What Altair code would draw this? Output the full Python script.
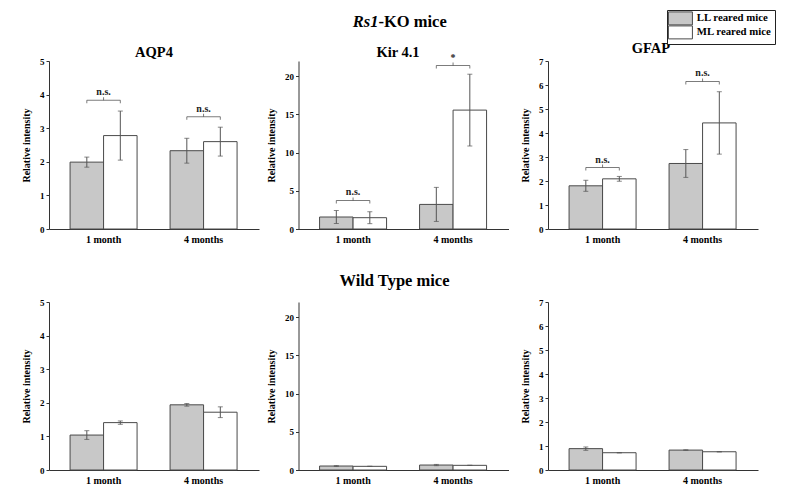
import altair as alt
import pandas as pd

categories = ["1 month", "4 months"]
groups = ["LL reared mice", "ML reared mice"]

# Rs1-KO mice
ko_aqp4_ll = [1.99, 2.33]
ko_aqp4_ll_err = [0.15, 0.37]
ko_aqp4_ml = [2.78, 2.60]
ko_aqp4_ml_err = [0.73, 0.43]
ko_aqp4_br = [3.83, 3.34]
ko_aqp4_lab = ["n.s.", "n.s."]

ko_kir_ll = [1.57, 3.22]
ko_kir_ll_err = [0.85, 2.23]
ko_kir_ml = [1.48, 15.57]
ko_kir_ml_err = [0.78, 4.70]
ko_kir_br = [3.74, 21.4]
ko_kir_lab = ["n.s.", "*"]

ko_gfap_ll = [1.80, 2.73]
ko_gfap_ll_err = [0.23, 0.58]
ko_gfap_ml = [2.09, 4.42]
ko_gfap_ml_err = [0.10, 1.30]
ko_gfap_br = [2.56, 6.15]
ko_gfap_lab = ["n.s.", "n.s."]

# Wild Type mice
wt_aqp4_ll = [1.04, 1.94]
wt_aqp4_ll_err = [0.13, 0.04]
wt_aqp4_ml = [1.41, 1.72]
wt_aqp4_ml_err = [0.05, 0.16]

wt_kir_ll = [0.52, 0.65]
wt_kir_ll_err = [0.06, 0.08]
wt_kir_ml = [0.48, 0.61]
wt_kir_ml_err = [0.02, 0.02]

wt_gfap_ll = [0.89, 0.83]
wt_gfap_ll_err = [0.07, 0.01]
wt_gfap_ml = [0.72, 0.76]
wt_gfap_ml_err = [0.01, 0.01]

aqp4_ticks = [0, 1, 2, 3, 4, 5]
kir_ticks = [0, 5, 10, 15, 20]
gfap_ticks = [0, 1, 2, 3, 4, 5, 6, 7]

panel_titles = ["AQP4", "Kir 4.1", "GFAP"]
row_titles = ["Rs1", "-KO mice", "Wild Type mice"]

FONT = "Liberation Serif"
BAR_FILL = ["#c8c8c8", "#ffffff"]
EDGE = "#4a4a4a"
W, H = 210, 168


def text_layer(txt, x, y, size, align="center", italic=False):
    kw = dict(align=align, baseline="alphabetic", font=FONT, fontSize=size,
              fontWeight="bold", color="black")
    if italic:
        kw["fontStyle"] = "italic"
    return alt.Chart(pd.DataFrame({"t": [txt]})).mark_text(**kw).encode(
        x=alt.value(x), y=alt.value(y), text="t:N")


def panel(ll, ll_err, ml, ml_err, ymax, yticks, br=None, lab=None,
          legend=False, extra=None):
    df = pd.DataFrame({
        "cat": categories * 2,
        "grp": [groups[0]] * 2 + [groups[1]] * 2,
        "val": ll + ml,
        "err": ll_err + ml_err,
    })
    df["lo"] = df["val"] - df["err"]
    df["hi"] = df["val"] + df["err"]

    xs = alt.Scale(domain=categories, paddingInner=0.33, paddingOuter=0.215, align=0.49)
    xax = alt.Axis(title=None, labelAngle=0, ticks=False, labelPadding=5,
                   labelFontSize=10, labelFont=FONT, labelFontWeight="bold")
    xoff = alt.XOffset("grp:N", sort=groups,
                       scale=alt.Scale(domain=groups, paddingInner=0, paddingOuter=0))
    ys = alt.Scale(domain=[0, ymax], nice=False, zero=True)
    yax = alt.Axis(values=yticks, title="Relative intensity", titleFont=FONT,
                   titleFontSize=10, titleFontWeight="bold", titlePadding=8,
                   labelFont=FONT, labelFontSize=9, labelFontWeight="bold",
                   tickSize=3, labelPadding=2, grid=False)

    xenc = alt.X("cat:N", sort=categories, scale=xs, axis=xax)

    def Y(f):
        return alt.Y(f, scale=ys, axis=yax)

    if legend:
        fill = alt.Fill("grp:N", scale=alt.Scale(domain=groups, range=BAR_FILL),
                        legend=alt.Legend(title=None, orient="none", legendX=119, legendY=-51,
                                          symbolType="M-2.33,-2.16H5.67V2.16H-2.33Z",
                                          symbolSize=36,
                                          symbolStrokeColor=EDGE, symbolStrokeWidth=1,
                                          labelFont=FONT, labelFontSize=10.8,
                                          labelFontWeight="bold", labelOffset=16,
                                          rowPadding=-4.5, padding=3,
                                          strokeColor="#222222", fillColor="white"))
    else:
        fill = alt.Fill("grp:N", scale=alt.Scale(domain=groups, range=BAR_FILL), legend=None)

    base = alt.Chart(df)
    bars = base.mark_bar(stroke=EDGE, strokeWidth=1).encode(
        x=xenc, xOffset=xoff, y=Y("val:Q"), fill=fill)
    rules = base.mark_rule(color="#555555", strokeWidth=1).encode(
        x=xenc, xOffset=xoff, y=Y("lo:Q"), y2="hi:Q")
    cap_hi = base.mark_tick(orient="horizontal", size=5, thickness=1, color="#555555").encode(
        x=xenc, xOffset=xoff, y=Y("hi:Q"))
    cap_lo = base.mark_tick(orient="horizontal", size=5, thickness=1, color="#555555").encode(
        x=xenc, xOffset=xoff, y=Y("lo:Q"))
    layers = [bars, rules, cap_hi, cap_lo]

    if br is not None:
        bdf = pd.DataFrame({"cat": categories, "yb": br, "label": lab})
        bdf2 = pd.DataFrame({
            "cat": categories * 2,
            "grp": [groups[0]] * 2 + [groups[1]] * 2,
            "yb": br * 2,
        })
        bline = alt.Chart(bdf).mark_tick(orient="horizontal", size=33.5, thickness=1,
                                          color="#444444").encode(x=xenc, y=Y("yb:Q"))
        bends = alt.Chart(bdf2).mark_tick(orient="vertical", size=3, thickness=1,
                                           color="#444444", yOffset=1.5).encode(
            x=xenc, xOffset=xoff, y=Y("yb:Q"))
        bmid = alt.Chart(bdf).mark_tick(orient="vertical", size=3, thickness=1,
                                         color="#444444", yOffset=-1.5).encode(
            x=xenc, y=Y("yb:Q"))
        btxt = alt.Chart(bdf).mark_text(dy=-5, baseline="alphabetic", font=FONT,
                                         fontSize=10, fontWeight="bold",
                                         color="#222222").encode(
            x=xenc, y=Y("yb:Q"), text="label:N")
        layers += [bline, bends, bmid, btxt]

    if extra is not None:
        layers += extra

    return alt.layer(*layers).properties(width=W, height=H)


p1 = panel(ko_aqp4_ll, ko_aqp4_ll_err, ko_aqp4_ml, ko_aqp4_ml_err, 5, aqp4_ticks,
           ko_aqp4_br, ko_aqp4_lab,
           extra=[text_layer(panel_titles[0], 105, -4, 14.5)])
p2 = panel(ko_kir_ll, ko_kir_ll_err, ko_kir_ml, ko_kir_ml_err, 22, kir_ticks,
           ko_kir_br, ko_kir_lab,
           extra=[text_layer(panel_titles[1], 99.5, -4, 14.5),
                  text_layer(row_titles[0], 80, -34, 16.5, align="right", italic=True),
                  text_layer(row_titles[1], 80, -34, 16.5, align="left")])
p3 = panel(ko_gfap_ll, ko_gfap_ll_err, ko_gfap_ml, ko_gfap_ml_err, 7, gfap_ticks,
           ko_gfap_br, ko_gfap_lab, legend=True,
           extra=[text_layer(panel_titles[2], 103, -8, 14.5)])
p4 = panel(wt_aqp4_ll, wt_aqp4_ll_err, wt_aqp4_ml, wt_aqp4_ml_err, 5, aqp4_ticks)
p5 = panel(wt_kir_ll, wt_kir_ll_err, wt_kir_ml, wt_kir_ml_err, 22, kir_ticks,
           extra=[text_layer(row_titles[2], 96, -16, 16.5)])
p6 = panel(wt_gfap_ll, wt_gfap_ll_err, wt_gfap_ml, wt_gfap_ml_err, 7, gfap_ticks)

chart = alt.concat(p1, p2, p3, p4, p5, p6, columns=3,
                   spacing={"row": 73, "column": 39.5}, bounds="flush").resolve_scale(
    fill="independent"
).resolve_legend(fill="independent").properties(
    autosize=alt.AutoSizeParams(type="none"),
    padding={"left": 41, "top": 53, "right": 728, "bottom": 429}
).configure(font=FONT).configure_view(stroke="transparent").configure_axis(
    domainColor="#333333", tickColor="#333333", labelColor="black", titleColor="black"
)

chart.save("out.html", embed_options={"renderer": "svg", "actions": False})
